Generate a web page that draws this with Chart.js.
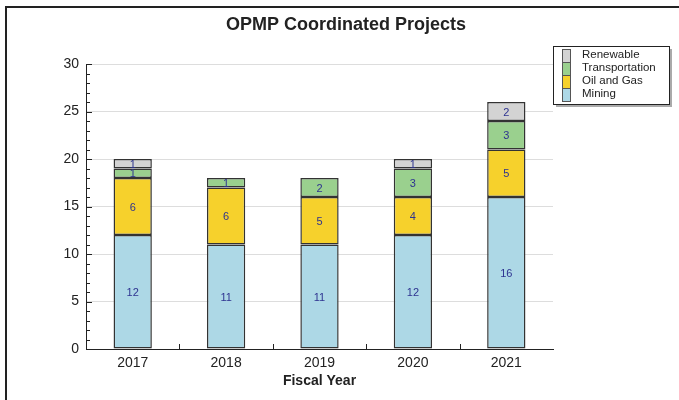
<!DOCTYPE html>
<html>
<head>
<meta charset="utf-8">
<script src="https://cdn.jsdelivr.net/npm/chart.js@4.4.0/dist/chart.umd.min.js"></script>
<style>
  body { margin: 0; background: #fff; }
  #wrap { position: relative; width: 679px; height: 400px; overflow: hidden; }
  #frame { position: absolute; left: 5px; top: 6px; width: 700px; height: 420px;
           border-left: 2px solid #222; border-top: 2px solid #222; }
  canvas { position: absolute; left: 0; top: 0; }
</style>
</head>
<body>
<div id="wrap">
  <div id="frame"></div>
  <canvas id="chart" width="679" height="400"></canvas>
</div>
<script>
// chart data
const years = ['2017', '2018', '2019', '2020', '2021'];
const mining = [12, 11, 11, 12, 16];
const oilAndGas = [6, 6, 5, 4, 5];
const transportation = [1, 1, 2, 3, 3];
const renewable = [1, 0, 0, 1, 2];
const yTicks = [0, 5, 10, 15, 20, 25, 30];

const FONT = '"Liberation Sans", Arial, sans-serif';

// Title, value labels, inner ticks and legend box
const extras = {
  id: 'extras',
  afterDatasetsDraw(chart) {
    const ctx = chart.ctx;
    ctx.save();
    ctx.font = '11px ' + FONT;
    ctx.fillStyle = '#2e3390';
    ctx.textAlign = 'center';
    ctx.textBaseline = 'middle';
    chart.data.datasets.forEach(function(ds, i) {
      const meta = chart.getDatasetMeta(i);
      meta.data.forEach(function(bar, j) {
        if (!ds.data[j]) return;
        ctx.fillText(String(ds.data[j]), bar.x, (bar.y + bar.base) / 2 + 1);
      });
    });
    ctx.restore();
  },
  afterDraw(chart) {
    const ctx = chart.ctx;
    const area = chart.chartArea;
    const y = chart.scales.y;
    const x = chart.scales.x;
    ctx.save();

    // title
    ctx.fillStyle = '#222';
    ctx.font = 'bold 18px ' + FONT;
    ctx.textAlign = 'center';
    ctx.textBaseline = 'middle';
    ctx.fillText('OPMP Coordinated Projects', 346, 25);

    // y axis ticks drawn inward
    ctx.strokeStyle = '#222';
    ctx.lineWidth = 1;
    for (let v = 0; v <= 30; v++) {
      const py = Math.round(y.getPixelForValue(v)) + 0.5;
      const len = v % 5 === 0 ? 6 : 4;
      ctx.beginPath();
      ctx.moveTo(area.left, py);
      ctx.lineTo(area.left + len, py);
      ctx.stroke();
    }
    // x axis ticks between categories, pointing up
    for (let i = 0; i < years.length - 1; i++) {
      const px = Math.round((x.getPixelForValue(i) + x.getPixelForValue(i + 1)) / 2) + 0.5;
      ctx.beginPath();
      ctx.moveTo(px, area.bottom);
      ctx.lineTo(px, area.bottom - 5);
      ctx.stroke();
    }

    // legend box with shadow
    const lx = 553, ly = 46, lw = 116, lh = 58;
    ctx.fillStyle = '#aaa';
    ctx.fillRect(lx + 3, ly + 3, lw, lh);
    ctx.fillStyle = '#fff';
    ctx.fillRect(lx, ly, lw, lh);
    ctx.strokeStyle = '#222';
    ctx.strokeRect(lx + 0.5, ly + 0.5, lw, lh);

    const items = chart.data.datasets.slice().reverse();
    ctx.font = '11.5px ' + FONT;
    ctx.textAlign = 'left';
    ctx.textBaseline = 'middle';
    items.forEach(function(ds, k) {
      const sy = ly + 3 + k * 13;
      ctx.fillStyle = ds.backgroundColor;
      ctx.fillRect(562, sy, 8, 13);
      ctx.strokeStyle = '#555';
      ctx.strokeRect(562.5, sy + 0.5, 8, 13);
      ctx.fillStyle = '#222';
      ctx.fillText(ds.label, 582, sy + 6);
    });
    ctx.restore();
  }
};

new Chart(document.getElementById('chart'), {
  type: 'bar',
  data: {
    labels: years,
    datasets: [
      { label: 'Mining', data: mining, backgroundColor: '#add8e6' },
      { label: 'Oil and Gas', data: oilAndGas, backgroundColor: '#f6d12c' },
      { label: 'Transportation', data: transportation, backgroundColor: '#9ad08e' },
      { label: 'Renewable', data: renewable, backgroundColor: '#d3d3d3' }
    ].map(function(d) {
      return Object.assign(d, {
        borderColor: '#333',
        borderWidth: 1.5,
        borderSkipped: false,
        categoryPercentage: 1,
        barPercentage: 0.41
      });
    })
  },
  options: {
    responsive: false,
    devicePixelRatio: 1,
    animation: false,
    layout: { padding: { left: 0, top: 64, right: 126, bottom: 0 } },
    plugins: {
      legend: { display: false },
      title: { display: false },
      tooltip: { enabled: false }
    },
    scales: {
      x: {
        stacked: true,
        grid: { display: false, drawTicks: false },
        border: { display: true, color: '#222', width: 1 },
        ticks: { color: '#222', font: { family: FONT, size: 14 }, padding: 6 },
        title: {
          display: true, text: 'Fiscal Year', color: '#222',
          font: { family: FONT, size: 14, weight: 'bold' },
          padding: { top: 0, bottom: 10 }
        },
        afterFit: function(s) { s.height = 51; }
      },
      y: {
        stacked: true,
        min: 0,
        max: 30,
        afterBuildTicks: function(s) { s.ticks = yTicks.map(function(v) { return { value: v }; }); },
        grid: { color: '#dddddd', drawTicks: false },
        border: { display: true, color: '#222', width: 1 },
        ticks: { color: '#222', font: { family: FONT, size: 14 }, padding: 7 },
        afterFit: function(s) { s.width = 86; }
      }
    }
  },
  plugins: [extras]
});
</script>
</body>
</html>
